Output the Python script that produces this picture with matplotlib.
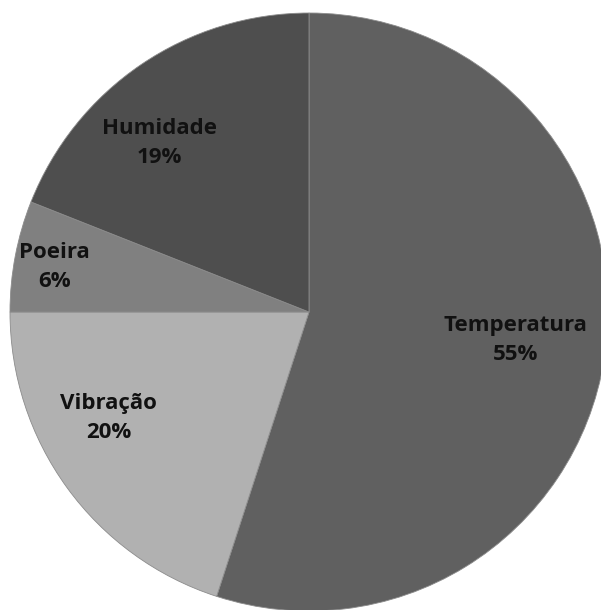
import matplotlib
matplotlib.use("Agg")
import matplotlib.pyplot as plt

categories = ["Temperatura", "Vibração", "Poeira", "Humidade"]
values = [55, 20, 6, 19]
colors = ["#606060", "#b1b1b1", "#808080", "#4e4e4e"]
# label positions (in pie-radius units, relative to centre)
label_pos = [(0.69, -0.095), (-0.67, -0.355), (-0.85, 0.15), (-0.50, 0.565)]

W, H = 601, 610
cx, cy, R = 309, 312, 299

fig = plt.figure(figsize=(W / 100, H / 100), dpi=100)
ax = fig.add_axes([0, 0, 1, 1])
wedges, _ = ax.pie(values, colors=colors, startangle=90, counterclock=False,
                   radius=1.0, wedgeprops=dict(edgecolor="#8c8c8c", linewidth=0.6))
ax.set_aspect("auto")
ax.set_xlim(-cx / R, (W - cx) / R)
ax.set_ylim(-(H - cy) / R, cy / R)
ax.axis("off")

for cat, v, (x, y) in zip(categories, values, label_pos):
    ax.text(x, y, f"{cat}\n{v}%", ha="center", va="center",
            fontsize=16, fontweight="bold", family="Open Sans",
            color="#111111", linespacing=1.5)

fig.savefig("out.png", dpi=100, facecolor="white")
